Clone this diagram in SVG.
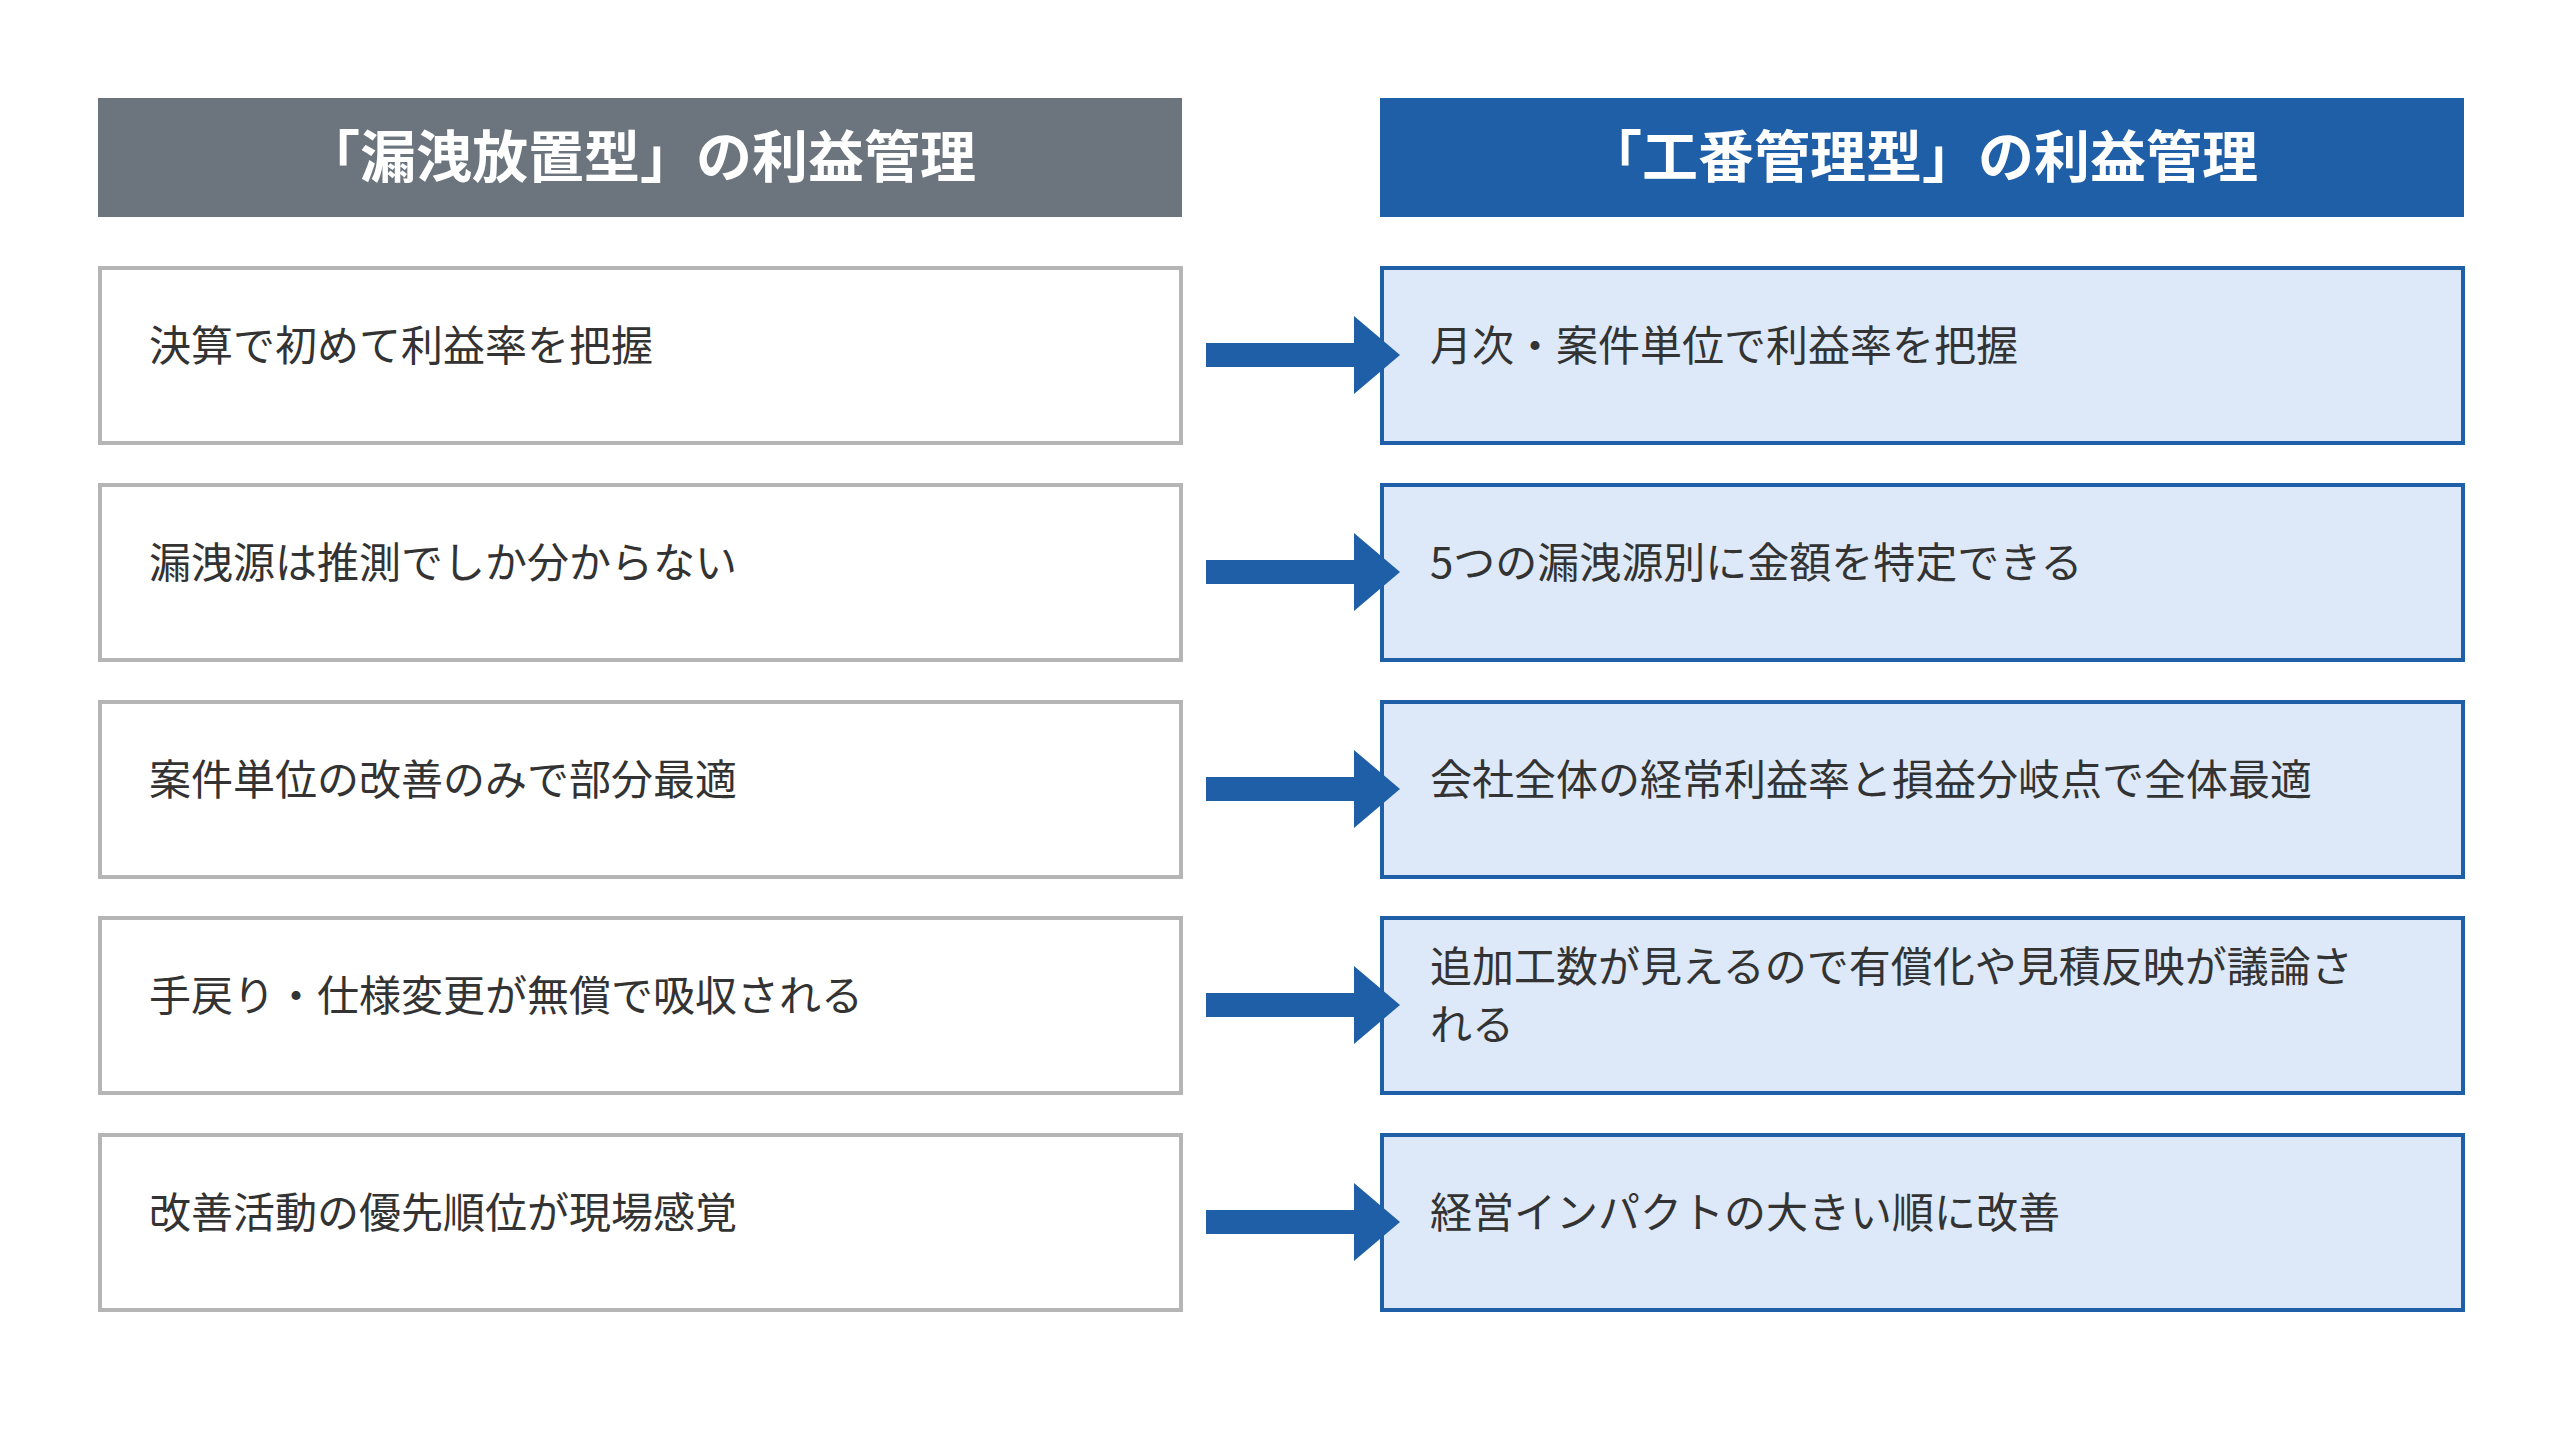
<svg xmlns="http://www.w3.org/2000/svg" width="2560" height="1447" viewBox="0 0 2560 1447">
<defs><style>
.h{font-family:"Noto Sans CJK JP","Noto Sans",sans-serif;font-size:56px;font-weight:bold;fill:#fff;text-anchor:middle}
.t{font-family:"Noto Sans CJK JP","Noto Sans",sans-serif;font-size:42px;fill:#333}
.l{fill:#fff;stroke:#b5b5b5;stroke-width:4}
.r{fill:#dde9f8;stroke:#1f5fa8;stroke-width:4}
.a{fill:#1f5fa8}
</style></defs>
<rect width="2560" height="1447" fill="#fff"/>
<g id="header-left"><rect x="98" y="98" width="1084" height="119" fill="#6c757d"/><text class="h" x="640" y="177">「漏洩放置型」の利益管理</text></g>
<g id="header-right"><rect x="1380" y="98" width="1084" height="119" fill="#1f5fa8"/><text class="h" x="1922" y="177">「工番管理型」の利益管理</text></g>
<g id="l1"><rect class="l" x="100" y="268" width="1081" height="175"/><text class="t" x="149" y="361">決算で初めて利益率を把握</text></g>
<g id="l2"><rect class="l" x="100" y="485" width="1081" height="175"/><text class="t" x="149" y="578">漏洩源は推測でしか分からない</text></g>
<g id="l3"><rect class="l" x="100" y="702" width="1081" height="175"/><text class="t" x="149" y="795">案件単位の改善のみで部分最適</text></g>
<g id="l4"><rect class="l" x="100" y="918" width="1081" height="175"/><text class="t" x="149" y="1011">手戻り・仕様変更が無償で吸収される</text></g>
<g id="l5"><rect class="l" x="100" y="1135" width="1081" height="175"/><text class="t" x="149" y="1228">改善活動の優先順位が現場感覚</text></g>
<g id="r1"><rect class="r" x="1382" y="268" width="1081" height="175"/><text class="t" x="1430" y="361">月次・案件単位で利益率を把握</text></g>
<g id="r2"><rect class="r" x="1382" y="485" width="1081" height="175"/><text class="t" x="1430" y="578">5つの漏洩源別に金額を特定できる</text></g>
<g id="r3"><rect class="r" x="1382" y="702" width="1081" height="175"/><text class="t" x="1430" y="795">会社全体の経常利益率と損益分岐点で全体最適</text></g>
<g id="r4"><rect class="r" x="1382" y="918" width="1081" height="175"/><text class="t" x="1430" y="982">追加工数が見えるので有償化や見積反映が議論さ</text><text class="t" x="1430" y="1040">れる</text></g>
<g id="r5"><rect class="r" x="1382" y="1135" width="1081" height="175"/><text class="t" x="1430" y="1228">経営インパクトの大きい順に改善</text></g>
<g id="connectors">
<path class="a" d="M1206 343h148v-27l46 39l-46 39v-27h-148z"/>
<path class="a" d="M1206 560h148v-27l46 39l-46 39v-27h-148z"/>
<path class="a" d="M1206 777h148v-27l46 39l-46 39v-27h-148z"/>
<path class="a" d="M1206 993h148v-27l46 39l-46 39v-27h-148z"/>
<path class="a" d="M1206 1210h148v-27l46 39l-46 39v-27h-148z"/>
</g>
</svg>
